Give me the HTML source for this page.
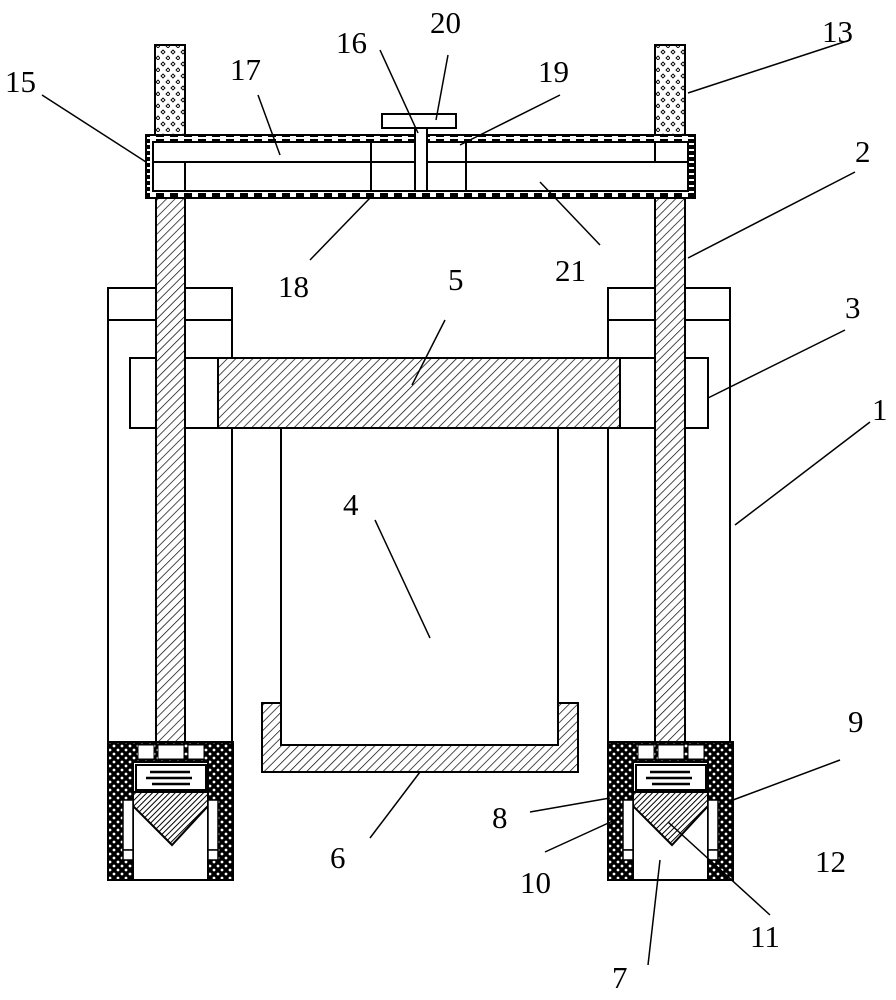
<!DOCTYPE html>
<html><head><meta charset="utf-8"><style>
html,body{margin:0;padding:0;background:#fff}
svg{display:block}
text{font-family:"Liberation Serif",serif;font-size:31px;fill:#000}
</style></head><body>
<svg width="896" height="1000" viewBox="0 0 896 1000" xmlns="http://www.w3.org/2000/svg">
<defs>
<pattern id="h" width="6" height="6" patternUnits="userSpaceOnUse" patternTransform="rotate(45)">
<rect width="6" height="6" fill="#fff"/><line x1="0" y1="0" x2="0" y2="6" stroke="#000" stroke-width="1.4"/></pattern>
<pattern id="hd" width="4" height="4" patternUnits="userSpaceOnUse" patternTransform="rotate(45)">
<rect width="4" height="4" fill="#fff"/><line x1="0" y1="0" x2="0" y2="4" stroke="#000" stroke-width="2"/></pattern>
<pattern id="dots" width="10" height="12" patternUnits="userSpaceOnUse">
<rect width="10" height="12" fill="#fff"/><path d="M3 2l2 2-2 2-2-2z M8 8l2 2-2 2-2-2z" fill="none" stroke="#000" stroke-width="0.9"/></pattern>
<pattern id="dk" width="8" height="8" patternUnits="userSpaceOnUse">
<rect width="8" height="8" fill="#000"/><circle cx="2" cy="2" r="1.4" fill="#fff"/><circle cx="6" cy="6" r="1.4" fill="#fff"/></pattern>
<pattern id="dash" width="14" height="6" patternUnits="userSpaceOnUse">
<rect width="14" height="6" fill="#fff"/><rect x="2" y="1" width="8" height="4" fill="#000"/></pattern>
</defs>
<g stroke="#000" stroke-width="2" fill="none">
<rect x="108" y="288" width="124" height="592" fill="#fff"/>
<line x1="108" y1="320" x2="232" y2="320"/>
<rect x="608" y="288" width="122" height="592" fill="#fff"/>
<line x1="608" y1="320" x2="730" y2="320"/>
<rect x="130" y="358" width="88" height="70" fill="#fff"/>
<rect x="620" y="358" width="88" height="70" fill="#fff"/>
<rect x="156" y="198" width="29" height="546" fill="url(#h)"/>
<rect x="655" y="198" width="30" height="546" fill="url(#h)"/>
<rect x="218" y="358" width="402" height="70" fill="url(#h)"/>
<rect x="281" y="428" width="277" height="317" fill="#fff"/>
<path d="M262 703H281V745H558V703H578V772H262Z" fill="url(#h)"/>
<rect x="155" y="45" width="30" height="90" fill="url(#dots)"/>
<rect x="655" y="45" width="30" height="90" fill="url(#dots)"/>
<rect x="146" y="135" width="549" height="63" fill="url(#dash)"/>
<rect x="153" y="142" width="535" height="49" fill="#fff"/>
<line x1="153" y1="162" x2="688" y2="162"/>
<line x1="185" y1="162" x2="185" y2="191"/>
<line x1="655" y1="142" x2="655" y2="162"/>
<line x1="371" y1="142" x2="371" y2="191"/>
<line x1="466" y1="142" x2="466" y2="191"/>
<rect x="415" y="127" width="12" height="64" fill="#fff"/>
<rect x="382" y="114" width="74" height="14" fill="#fff"/>
</g>
<g stroke="#000" stroke-width="2">
<g id="foot">
<rect x="108" y="742" width="125" height="138" fill="url(#dk)"/>
<rect x="133" y="762" width="75" height="118" fill="#fff"/>
<rect x="138" y="745" width="16" height="14" fill="#fff" stroke-width="1"/>
<rect x="158" y="745" width="26" height="14" fill="#fff" stroke-width="1"/>
<rect x="188" y="745" width="16" height="14" fill="#fff" stroke-width="1"/>
<rect x="136" y="765" width="70" height="25" fill="#fff"/>
<path d="M150 772h40M146 778h46M152 784h38" stroke-width="2.5"/>
<path d="M133 792H208V806L172 845L133 806Z" fill="url(#hd)"/>
<rect x="123" y="800" width="10" height="50" fill="#fff" stroke-width="1.5"/>
<rect x="123" y="850" width="10" height="10" fill="#fff" stroke-width="1.5"/>
<rect x="208" y="800" width="10" height="50" fill="#fff" stroke-width="1.5"/>
<rect x="208" y="850" width="10" height="10" fill="#fff" stroke-width="1.5"/>
</g>
<use href="#foot" x="500"/>
</g>
<g stroke="#000" stroke-width="1.5">
<line x1="42" y1="95" x2="146" y2="162"/>
<line x1="258" y1="95" x2="280" y2="155"/>
<line x1="380" y1="50" x2="418" y2="133"/>
<line x1="448" y1="55" x2="436" y2="120"/>
<line x1="560" y1="95" x2="460" y2="145"/>
<line x1="850" y1="40" x2="688" y2="93"/>
<line x1="855" y1="172" x2="688" y2="258"/>
<line x1="310" y1="260" x2="370" y2="198"/>
<line x1="600" y1="245" x2="540" y2="182"/>
<line x1="445" y1="320" x2="412" y2="385"/>
<line x1="845" y1="330" x2="708" y2="398"/>
<line x1="870" y1="422" x2="735" y2="525"/>
<line x1="375" y1="520" x2="430" y2="638"/>
<line x1="370" y1="838" x2="420" y2="772"/>
<line x1="530" y1="812" x2="610" y2="798"/>
<line x1="545" y1="852" x2="615" y2="820"/>
<line x1="840" y1="760" x2="733" y2="800"/>
<line x1="770" y1="915" x2="668" y2="822"/>
<line x1="648" y1="965" x2="660" y2="860"/>
</g>
<g>
<text x="5" y="92">15</text>
<text x="230" y="80">17</text>
<text x="336" y="53">16</text>
<text x="430" y="33">20</text>
<text x="538" y="82">19</text>
<text x="822" y="42">13</text>
<text x="855" y="162">2</text>
<text x="278" y="297">18</text>
<text x="555" y="281">21</text>
<text x="448" y="290">5</text>
<text x="845" y="318">3</text>
<text x="872" y="420">1</text>
<text x="343" y="515">4</text>
<text x="330" y="868">6</text>
<text x="492" y="828">8</text>
<text x="848" y="732">9</text>
<text x="520" y="893">10</text>
<text x="815" y="872">12</text>
<text x="750" y="947">11</text>
<text x="612" y="988">7</text>
</g>
</svg>
</body></html>
